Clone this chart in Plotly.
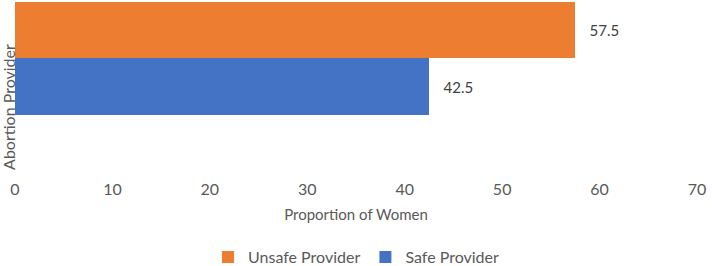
import plotly.graph_objects as go

categories = [""]
series_names = ["Safe Provider", "Unsafe Provider"]
safe_values = [42.5]
unsafe_values = [57.5]
x_ticks = [0, 10, 20, 30, 40, 50, 60, 70]

FONT = "Lato, 'Open Sans', sans-serif"
GREY = "#595959"

fig = go.Figure()
fig.add_trace(go.Bar(
    y=categories, x=safe_values, name=series_names[0], orientation="h",
    marker=dict(color="#4472C4", line=dict(width=0)),
    text=safe_values, texttemplate="   %{x}", textposition="outside",
    textfont=dict(size=15, color="#404040", family=FONT), cliponaxis=False,
))
fig.add_trace(go.Bar(
    y=categories, x=unsafe_values, name=series_names[1], orientation="h",
    marker=dict(color="#ED7D31", line=dict(width=0)),
    text=unsafe_values, texttemplate="   %{x}", textposition="outside",
    textfont=dict(size=15, color="#404040", family=FONT), cliponaxis=False,
))

fig.update_layout(
    width=712, height=266,
    margin=dict(l=15, r=15, t=2, b=90, autoexpand=False),
    paper_bgcolor="white", plot_bgcolor="white",
    barmode="group", bargap=0, bargroupgap=0,
    font=dict(family=FONT, color=GREY),
    showlegend=True,
    legend=dict(orientation="h", x=0.5, xanchor="center", y=-0.466, yanchor="middle",
                traceorder="reversed", font=dict(size=16, color=GREY),
                itemwidth=30, bgcolor="rgba(0,0,0,0)"),
    xaxis=dict(range=[0, 70], tickvals=x_ticks, showgrid=False, zeroline=False,
               showline=False, ticks="", automargin=False, ticklabelstandoff=2,
               tickfont=dict(size=16, color=GREY),
               title=dict(text="Proportion of Women", font=dict(size=15, color=GREY), standoff=12)),
    yaxis=dict(range=[-1.04, 0.5], showticklabels=False, showgrid=False, automargin=False,
               zeroline=False, showline=False, ticks=""),
    annotations=[dict(text="Abortion Provider", xref="paper", yref="paper",
                      x=0, y=0.397, xanchor="center", yanchor="middle", xshift=-6,
                      textangle=-90, showarrow=False,
                      font=dict(size=16, color=GREY, family=FONT))],
)

fig.write_html("out.html",
               config={"displayModeBar": False},
               post_script="document.body.style.margin='0';document.body.style.overflow='hidden';")
